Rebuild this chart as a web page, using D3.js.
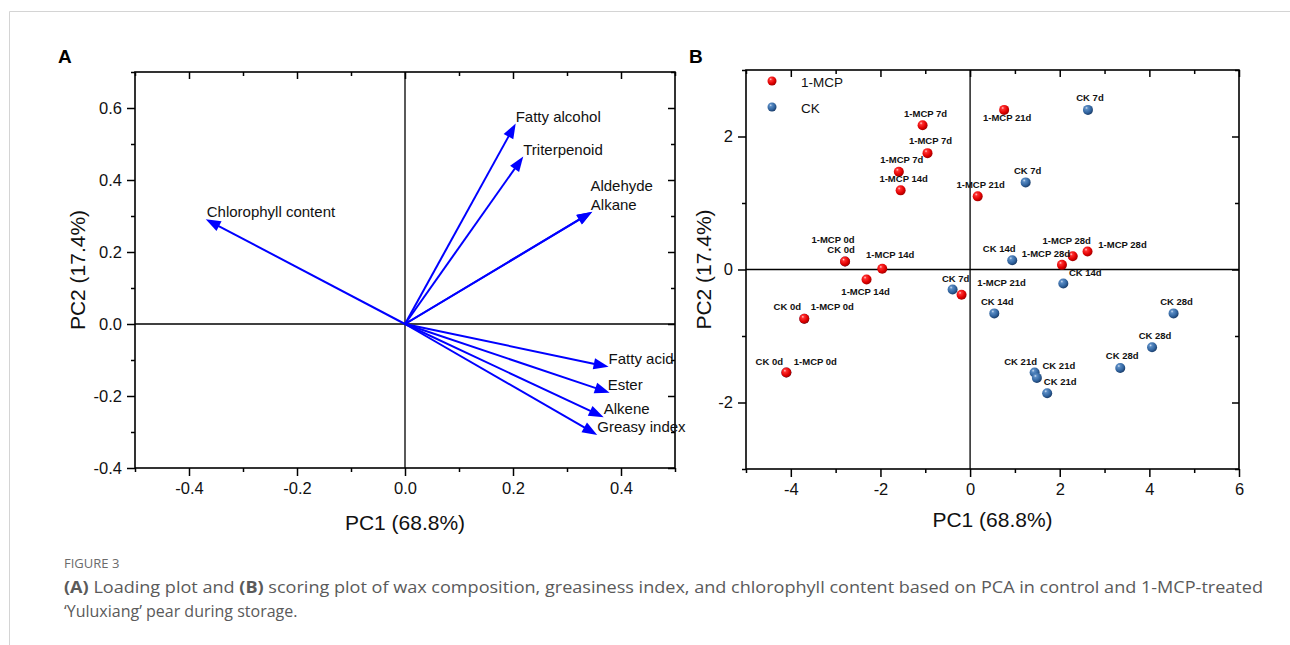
<!DOCTYPE html>
<html>
<head>
<meta charset="utf-8">
<script src="https://cdn.jsdelivr.net/npm/d3@7"></script>
<style>
  html, body { margin: 0; padding: 0; background: #fff; }
  svg { display: block; }
</style>
</head>
<body>
<script>
// ---------------- DATA ----------------
// Panel A: loadings
const loadingVars = ["Fatty alcohol", "Triterpenoid", "Aldehyde", "Alkane", "Chlorophyll content", "Fatty acid", "Ester", "Alkene", "Greasy index"];
const loadingPC1 = [0.205, 0.219, 0.347, 0.346, -0.369, 0.377, 0.379, 0.368, 0.356];
const loadingPC2 = [0.557, 0.465, 0.312, 0.311, 0.291, -0.119, -0.191, -0.259, -0.308];

// Panel B: scores
const groups = ["1-MCP", "CK"];
const mcpDays = ["0d", "0d", "0d", "7d", "7d", "7d", "14d", "14d", "14d", "21d", "21d", "21d", "28d", "28d", "28d"];
const mcpPC1 = [-2.79, -3.70, -4.10, -1.06, -0.95, -1.59, -1.55, -1.96, -2.31, 0.76, 0.17, -0.19, 2.29, 2.62, 2.05];
const mcpPC2 = [0.12, -0.74, -1.55, 2.17, 1.75, 1.47, 1.19, 0.01, -0.15, 2.40, 1.10, -0.38, 0.20, 0.27, 0.07];
const ckDays = ["0d", "0d", "0d", "7d", "7d", "7d", "14d", "14d", "14d", "21d", "21d", "21d", "28d", "28d", "28d"];
const ckPC1 = [-2.79, -3.70, -4.10, 2.63, 1.24, -0.39, 0.94, 2.08, 0.54, 1.44, 1.49, 1.72, 4.54, 4.06, 3.35];
const ckPC2 = [0.12, -0.74, -1.55, 2.40, 1.31, -0.30, 0.14, -0.21, -0.66, -1.55, -1.63, -1.86, -0.66, -1.17, -1.48];

// Tick values
const aXTicks = [-0.4, -0.2, 0.0, 0.2, 0.4];
const aXMinor = [-0.5, -0.3, -0.1, 0.1, 0.3, 0.5];
const aYTicks = [-0.4, -0.2, 0.0, 0.2, 0.4, 0.6];
const aYMinor = [-0.3, -0.1, 0.1, 0.3, 0.5, 0.7];
const bXTicks = [-4, -2, 0, 2, 4, 6];
const bXMinor = [-5, -3, -1, 1, 3, 5];
const bYTicks = [-2, 0, 2];
const bYMinor = [-3, -1, 1, 3];

const axisTitleX = "PC1 (68.8%)";
const axisTitleY = "PC2 (17.4%)";

// ---------------- LAYOUT (label offsets in px) ----------------
const loadingLabelOffset = [[0, -7], [0, -7], [-2, -26], [-1, -7], [1, -7], [0, -8], [-2, -8], [0, -8], [0, -8]];
const mcpLabelOffset = [[-12, -22], [28, -12], [29, -11], [3, -12], [3, -12], [3, -12], [3, -12], [8, -14], [-1, 12], [3, 8], [3, -12], [40, -12], [-6, -16], [35, -7], [-16, -11]];
const ckLabelOffset = [[-4, -12], [-17, -12], [-17, -11], [2, -12], [2, -12], [3, -11], [-13, -12], [22, -11], [3, -12], [-14, -11], [22, -12], [13, -12], [3, -12], [3, -12], [2, -12]];

const FONT = "'Liberation Sans', Arial, sans-serif";

const svg = d3.select("body").append("svg").attr("width", 1290).attr("height", 645);

// card border
svg.append("path").attr("d", "M9.5,645 L9.5,11.5 L1290,11.5").attr("fill", "none").attr("stroke", "#d4d4d4").attr("stroke-width", 1);

const defs = svg.append("defs");
function ballGrad(id, stops) {
  const g = defs.append("radialGradient").attr("id", id).attr("cx", "38%").attr("cy", "35%").attr("r", "65%").attr("fx", "35%").attr("fy", "30%");
  stops.forEach(s => g.append("stop").attr("offset", s[0]).attr("stop-color", s[1]));
}
ballGrad("redBall", [["0%", "#ffd0d0"], ["22%", "#ff3030"], ["70%", "#e00000"], ["100%", "#a40000"]]);
ballGrad("blueBall", [["0%", "#d4e2f4"], ["22%", "#5a8cc4"], ["70%", "#31649f"], ["100%", "#1c3f6c"]]);

// ---------- generic axes helper ----------
function drawFrame(g, x, y, o) {
  const [x0, x1] = x.range(), [y0, y1] = y.range();
  const fmt = o.fmt;
  // bottom major
  g.append("g").attr("transform", `translate(0,${y0})`)
    .call(d3.axisBottom(x).tickValues(o.xt).tickSize(8).tickPadding(6).tickFormat(fmt))
    .call(s => s.select(".domain").remove());
  g.append("g").attr("transform", `translate(0,${y0})`)
    .call(d3.axisBottom(x).tickValues(o.xm).tickSize(4).tickFormat(""))
    .call(s => s.select(".domain").remove());
  // left
  g.append("g").attr("transform", `translate(${x0},0)`)
    .call(d3.axisLeft(y).tickValues(o.yt).tickSize(8).tickPadding(5).tickFormat(fmt))
    .call(s => s.select(".domain").remove());
  g.append("g").attr("transform", `translate(${x0},0)`)
    .call(d3.axisLeft(y).tickValues(o.ym).tickSize(4).tickFormat(""))
    .call(s => s.select(".domain").remove());
  // top (inward)
  g.append("g").attr("transform", `translate(0,${y1})`)
    .call(d3.axisTop(x).tickValues(o.xt).tickSize(-7).tickFormat(""))
    .call(s => s.select(".domain").remove());
  g.append("g").attr("transform", `translate(0,${y1})`)
    .call(d3.axisTop(x).tickValues(o.xm).tickSize(-4).tickFormat(""))
    .call(s => s.select(".domain").remove());
  // right (inward)
  g.append("g").attr("transform", `translate(${x1},0)`)
    .call(d3.axisRight(y).tickValues(o.yt).tickSize(-7).tickFormat(""))
    .call(s => s.select(".domain").remove());
  g.append("g").attr("transform", `translate(${x1},0)`)
    .call(d3.axisRight(y).tickValues(o.ym).tickSize(-4).tickFormat(""))
    .call(s => s.select(".domain").remove());
  g.selectAll(".tick line").attr("stroke", "#000").attr("stroke-width", 1.5);
  g.selectAll(".tick text").attr("font-family", FONT).attr("font-size", 16.5).attr("fill", "#111");
  // zero lines
  g.append("line").attr("x1", x(0)).attr("x2", x(0)).attr("y1", y0).attr("y2", y1).attr("stroke", "#000").attr("stroke-width", 1.3);
  g.append("line").attr("x1", x0).attr("x2", x1).attr("y1", y(0)).attr("y2", y(0)).attr("stroke", "#000").attr("stroke-width", 1.3);
  // frame
  g.append("rect").attr("x", x0).attr("y", y1).attr("width", x1 - x0).attr("height", y0 - y1)
    .attr("fill", "none").attr("stroke", "#000").attr("stroke-width", 1.6);
  // titles
  g.append("text").attr("x", (x0 + x1) / 2).attr("y", o.xTitleY).attr("text-anchor", "middle")
    .attr("font-family", FONT).attr("font-size", 21).attr("fill", "#111").text(axisTitleX);
  g.append("text").attr("transform", `translate(${o.yTitleX},${(y0 + y1) / 2}) rotate(-90)`).attr("text-anchor", "middle")
    .attr("font-family", FONT).attr("font-size", 21).attr("fill", "#111").text(axisTitleY);
}

// ---------------- PANEL A ----------------
const xA = d3.scaleLinear().domain([-0.5, 0.5]).range([135, 675]);
const yA = d3.scaleLinear().domain([-0.4, 0.7]).range([468, 72]);
const gA = svg.append("g");
drawFrame(gA, xA, yA, { xt: aXTicks, xm: aXMinor, yt: aYTicks, ym: aYMinor, fmt: d => d.toFixed(1), xTitleY: 530, yTitleX: 85 });

const headL = 15, headW = 5.5;
loadingVars.forEach((name, i) => {
  const ox = xA(0), oy = yA(0);
  const tx = xA(loadingPC1[i]), ty = yA(loadingPC2[i]);
  const len = Math.hypot(tx - ox, ty - oy);
  const ux = (tx - ox) / len, uy = (ty - oy) / len;
  const nx = -uy, ny = ux;
  const bx = tx - headL * ux, by = ty - headL * uy;
  gA.append("line").attr("x1", ox).attr("y1", oy).attr("x2", bx + 2 * ux).attr("y2", by + 2 * uy)
    .attr("stroke", "#0000ff").attr("stroke-width", 2);
  gA.append("path").attr("d", `M${tx},${ty} L${bx + headW * nx},${by + headW * ny} L${bx - headW * nx},${by - headW * ny} Z`)
    .attr("fill", "#0000ff");
  gA.append("text").attr("x", tx + loadingLabelOffset[i][0]).attr("y", ty + loadingLabelOffset[i][1]).attr("dy", "0.35em")
    .attr("font-family", FONT).attr("font-size", 15).attr("fill", "#111").text(name);
});

// ---------------- PANEL B ----------------
const xB = d3.scaleLinear().domain([-5, 6]).range([746, 1239]);
const yB = d3.scaleLinear().domain([-3, 3]).range([469, 70]);
const gB = svg.append("g");
drawFrame(gB, xB, yB, { xt: bXTicks, xm: bXMinor, yt: bYTicks, ym: bYMinor, fmt: d => String(d), xTitleY: 527, yTitleX: 711 });

function drawGroup(label, pc1, pc2, days, offs, fill) {
  const pts = pc1.map((v, i) => ({ x: v, y: pc2[i], lab: label + " " + days[i], off: offs[i] }));
  gB.append("g").selectAll("circle").data(pts).join("circle")
    .attr("cx", d => xB(d.x)).attr("cy", d => yB(d.y)).attr("r", 5).attr("fill", fill);
  return pts;
}
const ckPts = drawGroup("CK", ckPC1, ckPC2, ckDays, ckLabelOffset, "url(#blueBall)");
const mcpPts = drawGroup("1-MCP", mcpPC1, mcpPC2, mcpDays, mcpLabelOffset, "url(#redBall)");
gB.append("g").selectAll("text").data(ckPts.concat(mcpPts)).join("text")
  .attr("x", d => xB(d.x) + d.off[0]).attr("y", d => yB(d.y) + d.off[1]).attr("dy", "0.35em")
  .attr("text-anchor", "middle").attr("font-family", FONT).attr("font-size", 9.5).attr("font-weight", "bold")
  .attr("fill", "#111").text(d => d.lab);

// legend
const legFill = ["url(#redBall)", "url(#blueBall)"];
groups.forEach((gname, i) => {
  gB.append("circle").attr("cx", 772).attr("cy", 81 + i * 26).attr("r", 4.5).attr("fill", legFill[i]);
  gB.append("text").attr("x", 801).attr("y", 82 + i * 26).attr("dy", "0.35em")
    .attr("font-family", FONT).attr("font-size", 13.5).attr("fill", "#111").text(gname);
});

// panel letters
svg.append("text").attr("x", 58).attr("y", 63).attr("font-family", FONT).attr("font-size", 19).attr("font-weight", "bold").text("A");
svg.append("text").attr("x", 689).attr("y", 63).attr("font-family", FONT).attr("font-size", 19).attr("font-weight", "bold").text("B");

// caption
const CAP = "'Open Sans', 'Noto Sans', sans-serif";
svg.append("text").attr("x", 64).attr("y", 568).attr("font-family", CAP).attr("font-size", 13).attr("fill", "#6b6b6b").text("FIGURE 3");
const l1 = svg.append("text").attr("x", 64).attr("y", 593).attr("font-family", CAP).attr("font-size", 16).attr("fill", "#5a5a5a");
l1.append("tspan").attr("font-weight", "bold").text("(A)");
l1.append("tspan").text(" Loading plot and ");
l1.append("tspan").attr("font-weight", "bold").text("(B)");
l1.append("tspan").text(" scoring plot of wax composition, greasiness index, and chlorophyll content based on PCA in control and 1-MCP-treated");
svg.append("text").attr("x", 64).attr("y", 617).attr("font-family", CAP).attr("font-size", 16).attr("fill", "#5a5a5a")
  .text("\u2018Yuluxiang\u2019 pear during storage.");
// fit caption width to reference
[[l1, 1199]].forEach(([t, w]) => {
  const cur = t.node().getComputedTextLength();
  if (cur > 0) t.attr("textLength", w).attr("lengthAdjust", "spacingAndGlyphs");
});
</script>
</body>
</html>
